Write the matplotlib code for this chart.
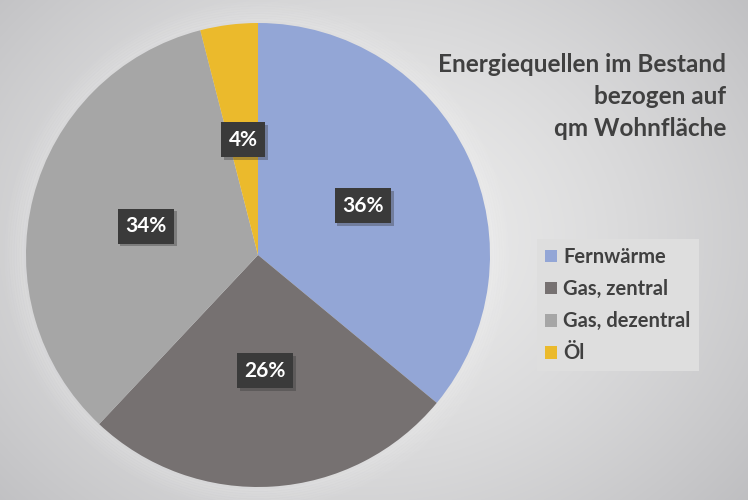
import numpy as np
import matplotlib
matplotlib.use("Agg")
import matplotlib.pyplot as plt
from matplotlib.patches import Patch, Circle
import matplotlib.patheffects as pe

labels = ["Fernwärme", "Gas, zentral", "Gas, dezentral", "Öl"]
values = [36, 26, 34, 4]
colors = ["#93A6D6", "#767171", "#A6A6A6", "#EBBA2C"]
title_lines = ["Energiequellen im Bestand", "bezogen auf", "qm Wohnfläche"]

FONT = ["Lato", "DejaVu Sans"]
plt.rcParams["font.family"] = FONT

W, H = 748, 500
fig = plt.figure(figsize=(W / 100, H / 100), dpi=100)
ax = fig.add_axes([0, 0, 1, 1])
ax.set_xlim(0, W)
ax.set_ylim(0, H)
ax.set_aspect("equal")
ax.axis("off")

# radial gradient background
yy, xx = np.mgrid[0:H, 0:W]
cx, cy = 360, 260
d = np.sqrt(((xx - cx) / 520) ** 2 + ((yy - cy) / 420) ** 2)
d = np.clip(d, 0, 1)
light = np.array([0.93, 0.93, 0.93])
dark = np.array([0.74, 0.74, 0.75])
img = light[None, None, :] * (1 - d[..., None] ** 1.4) + dark[None, None, :] * (d[..., None] ** 1.4)
ax.imshow(img, extent=[0, W, 0, H], origin="lower", zorder=0, interpolation="bilinear")

pc = (258, 245)
R = 232
# soft glow around pie
for i, a in enumerate(np.linspace(0.10, 0.01, 10)):
    ax.add_patch(Circle(pc, R + 2 + i * 2.5, facecolor="none", edgecolor="white", lw=3, alpha=a, zorder=1))

wedges, texts, autotexts = ax.pie(
    values, colors=colors, startangle=90, counterclock=False,
    center=pc, radius=R, autopct="%d%%", pctdistance=0.5,
    wedgeprops=dict(linewidth=0, zorder=2),
    textprops=dict(color="white", fontsize=15, fontweight="bold", zorder=5),
    frame=True,
)
ax.set_xlim(0, W)
ax.set_ylim(0, H)
ax.axis("off")
for t in autotexts:
    t.set_bbox(dict(boxstyle="square,pad=0.36", facecolor="#3a3a3a", edgecolor="none"))
    t.get_bbox_patch().set_path_effects([pe.SimplePatchShadow(offset=(2, -2), shadow_rgbFace="#333333", alpha=0.35), pe.Normal()])

# title
ty = [500 - 65, 500 - 97, 500 - 128]
for line, y in zip(title_lines, ty):
    ax.text(726, y, line, ha="right", va="center", fontsize=17.5, fontweight="bold", color="#404040", zorder=5)

handles = [Patch(facecolor=c, edgecolor="none") for c in colors]
leg = ax.legend(handles, labels, loc="upper left", bbox_to_anchor=(537 / W, 1 - 239 / H),
                frameon=True, fancybox=False, facecolor="#dedede", edgecolor="none", framealpha=1,
                prop=dict(family=FONT, weight="bold", size=14.5), labelcolor="#404040",
                handlelength=0.6, handleheight=0.6, handletextpad=0.3, labelspacing=0.6,
                borderpad=0.4, borderaxespad=0)
fig.savefig("out.png", dpi=100)
